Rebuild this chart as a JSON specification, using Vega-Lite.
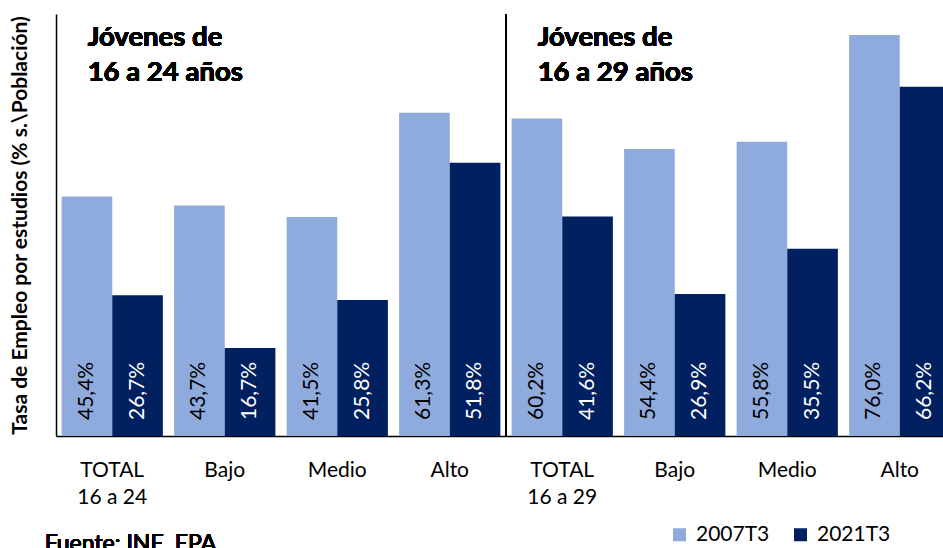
{
  "$schema": "https://vega.github.io/schema/vega-lite/v6.json",
  "autosize": {"type": "none"},
  "width": 887,
  "height": 422,
  "padding": {"left": 56, "top": 14, "right": 0, "bottom": 112},
  "config": {
    "font": "Lato",
    "view": {"stroke": null},
    "locale": {"number": {"decimal": ",", "thousands": ".", "grouping": [3], "currency": ["", " €"]}}
  },
  "data": {"values": [
    {"g": "1|TOTAL|16 a 24", "s": "2007T3", "v": 0.454},
    {"g": "1|TOTAL|16 a 24", "s": "2021T3", "v": 0.267},
    {"g": "2|Bajo", "s": "2007T3", "v": 0.437},
    {"g": "2|Bajo", "s": "2021T3", "v": 0.167},
    {"g": "3|Medio", "s": "2007T3", "v": 0.415},
    {"g": "3|Medio", "s": "2021T3", "v": 0.258},
    {"g": "4|Alto", "s": "2007T3", "v": 0.613},
    {"g": "4|Alto", "s": "2021T3", "v": 0.518},
    {"g": "5|TOTAL|16 a 29", "s": "2007T3", "v": 0.602},
    {"g": "5|TOTAL|16 a 29", "s": "2021T3", "v": 0.416},
    {"g": "6|Bajo", "s": "2007T3", "v": 0.544},
    {"g": "6|Bajo", "s": "2021T3", "v": 0.269},
    {"g": "7|Medio", "s": "2007T3", "v": 0.558},
    {"g": "7|Medio", "s": "2021T3", "v": 0.355},
    {"g": "8|Alto", "s": "2007T3", "v": 0.760},
    {"g": "8|Alto", "s": "2021T3", "v": 0.662}
  ]},
  "encoding": {
    "x": {
      "field": "g", "type": "nominal", "sort": null,
      "scale": {"range": [0, 900], "paddingInner": 0.1, "paddingOuter": 0.05},
      "axis": {
        "title": null, "ticks": false, "labelAngle": 0,
        "labelExpr": "slice(split(datum.value, '|'), 1)",
        "labelFontSize": 21, "labelColor": "#000000", "labelPadding": 23, "labelLineHeight": 27,
        "domainColor": "#000000", "domainWidth": 1.5
      }
    }
  },
  "layer": [
    {
      "mark": {"type": "bar"},
      "encoding": {
        "xOffset": {"field": "s", "type": "nominal", "scale": {"paddingInner": 0, "paddingOuter": 0}},
        "y": {
          "field": "v", "type": "quantitative",
          "scale": {"domain": [0, 0.8], "nice": false, "zero": true},
          "axis": {
            "title": "Tasa de Empleo por estudios (% s.\\Población)",
            "titleFontSize": 21, "titleFontWeight": "bold", "titleColor": "#000000", "titlePadding": 26,
            "labels": false, "ticks": false, "grid": false,
            "domainColor": "#000000", "domainWidth": 1.5
          }
        },
        "color": {
          "field": "s", "type": "nominal",
          "scale": {"domain": ["2007T3", "2021T3"], "range": ["#8faadc", "#002060"]},
          "legend": {
            "orient": "none", "legendX": 613, "legendY": 510, "direction": "horizontal",
            "title": null, "symbolType": "square", "symbolSize": 169, "symbolStrokeWidth": 0,
            "labelFontSize": 21, "labelColor": "#000000", "columnPadding": 20, "labelOffset": 6, "padding": 0
          }
        }
      }
    },
    {
      "mark": {"type": "text", "angle": -90, "align": "left", "baseline": "middle", "dx": 16, "fontSize": 21},
      "encoding": {
        "xOffset": {"field": "s", "type": "nominal", "scale": {"paddingInner": 0, "paddingOuter": 0}},
        "y": {"datum": 0},
        "text": {"field": "v", "type": "quantitative", "format": ".1%"},
        "color": {"condition": {"test": "datum.s === '2021T3'", "value": "#ffffff"}, "value": "#000000"}
      }
    },
    {
      "mark": {"type": "rule", "color": "#000000", "strokeWidth": 1.5},
      "encoding": {
        "x": {"datum": "5|TOTAL|16 a 29", "bandPosition": -0.055}
      }
    },
    {
      "mark": {"type": "text", "align": "left", "baseline": "top", "fontSize": 27.5, "fontWeight": "bold", "lineHeight": 35, "dx": 26, "dy": 9.5, "color": "#000000"},
      "encoding": {
        "x": {"datum": "1|TOTAL|16 a 24", "bandPosition": 0},
        "y": {"datum": 0.8},
        "text": {"value": ["Jóvenes de", "16 a 24 años"]}
      }
    },
    {
      "mark": {"type": "text", "align": "left", "baseline": "top", "fontSize": 27.5, "fontWeight": "bold", "lineHeight": 35, "dx": 26, "dy": 9.5, "color": "#000000"},
      "encoding": {
        "x": {"datum": "5|TOTAL|16 a 29", "bandPosition": 0},
        "y": {"datum": 0.8},
        "text": {"value": ["Jóvenes de", "16 a 29 años"]}
      }
    },
    {
      "mark": {"type": "text", "align": "left", "baseline": "top", "fontSize": 23, "fontWeight": "normal", "dx": -17, "color": "#000000"},
      "encoding": {
        "x": {"datum": "1|TOTAL|16 a 24", "bandPosition": 0},
        "y": {"datum": -0.184},
        "text": {"value": "Fuente: INE, EPA"}
      }
    }
  ]
}
